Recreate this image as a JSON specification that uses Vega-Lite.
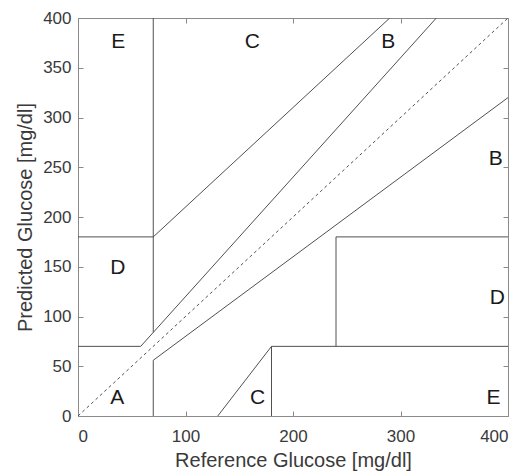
{
  "$schema": "https://vega.github.io/schema/vega-lite/v6.json",
  "width": 430,
  "height": 398,
  "autosize": "none",
  "padding": {"left": 78, "top": 18, "right": 18, "bottom": 57},
  "background": "white",
  "config": {
    "view": {"stroke": "#8a8a8a", "strokeWidth": 1},
    "font": "Liberation Sans",
    "axis": {"grid": false, "domain": false, "tickColor": "#8a8a8a", "tickSize": 5, "tickWidth": 1,
      "labelFont": "Liberation Sans", "labelFontSize": 17, "labelColor": "#3a3a3a",
      "titleFont": "Liberation Sans", "titleFontSize": 20, "titleFontWeight": "normal", "titleColor": "#3a3a3a"}
  },
  "datasets": {
    "segs": [
      {"seg": 1, "i": 0, "x": 0, "y": 70},
      {"seg": 1, "i": 1, "x": 58.33, "y": 70},
      {"seg": 1, "i": 2, "x": 333.33, "y": 400},
      {"seg": 2, "i": 0, "x": 70, "y": 84},
      {"seg": 2, "i": 1, "x": 70, "y": 400},
      {"seg": 3, "i": 0, "x": 0, "y": 180},
      {"seg": 3, "i": 1, "x": 70, "y": 180},
      {"seg": 3, "i": 2, "x": 290, "y": 400},
      {"seg": 4, "i": 0, "x": 70, "y": 0},
      {"seg": 4, "i": 1, "x": 70, "y": 56},
      {"seg": 4, "i": 2, "x": 400, "y": 320},
      {"seg": 5, "i": 0, "x": 130, "y": 0},
      {"seg": 5, "i": 1, "x": 180, "y": 70},
      {"seg": 5, "i": 2, "x": 400, "y": 70},
      {"seg": 6, "i": 0, "x": 180, "y": 0},
      {"seg": 6, "i": 1, "x": 180, "y": 70},
      {"seg": 7, "i": 0, "x": 240, "y": 70},
      {"seg": 7, "i": 1, "x": 240, "y": 180},
      {"seg": 7, "i": 2, "x": 400, "y": 180}
    ],
    "diag": [
      {"x": 0, "y": 0},
      {"x": 400, "y": 400}
    ],
    "labels": [
      {"t": "A", "x": 30, "y": 18},
      {"t": "B", "x": 382, "y": 258},
      {"t": "B", "x": 282, "y": 376},
      {"t": "C", "x": 155, "y": 376},
      {"t": "C", "x": 160, "y": 18},
      {"t": "D", "x": 30, "y": 149},
      {"t": "D", "x": 383, "y": 119},
      {"t": "E", "x": 31, "y": 376},
      {"t": "E", "x": 380, "y": 18}
    ]
  },
  "layer": [
    {
      "data": {"name": "segs"},
      "mark": {"type": "line", "color": "#505050", "strokeWidth": 1, "clip": true},
      "encoding": {
        "x": {"field": "x", "type": "quantitative", "scale": {"domain": [0, 400], "nice": false}, "axis": {"title": "Reference Glucose [mg/dl]", "values": [0, 100, 200, 300, 400], "ticks": false, "labelPadding": 12, "titlePadding": 6}},
        "y": {"field": "y", "type": "quantitative", "scale": {"domain": [0, 400], "nice": false}, "axis": {"title": "Predicted Glucose [mg/dl]", "values": [0, 50, 100, 150, 200, 250, 300, 350, 400], "ticks": false, "labelPadding": 7, "titlePadding": 7}},
        "detail": {"field": "seg"},
        "order": {"field": "i"}
      }
    },
    {
      "data": {"name": "diag"},
      "mark": {"type": "line", "color": "#505050", "strokeWidth": 1, "strokeDash": [3, 3]},
      "encoding": {
        "x": {"field": "x", "type": "quantitative", "axis": {"orient": "top", "offset": -5, "labels": false, "title": null, "values": [0, 100, 200, 300, 400]}},
        "y": {"field": "y", "type": "quantitative", "axis": {"orient": "right", "offset": -5, "labels": false, "title": null, "values": [0, 50, 100, 150, 200, 250, 300, 350, 400]}}
      }
    },
    {
      "data": {"name": "labels"},
      "mark": {"type": "text", "align": "left", "baseline": "middle", "fontSize": 21, "font": "Liberation Sans", "color": "#1a1a1a"},
      "encoding": {
        "x": {"field": "x", "type": "quantitative", "axis": {"orient": "bottom", "offset": -5, "labels": false, "title": null, "values": [0, 100, 200, 300, 400]}},
        "y": {"field": "y", "type": "quantitative", "axis": {"orient": "left", "offset": -5, "labels": false, "title": null, "values": [0, 50, 100, 150, 200, 250, 300, 350, 400]}},
        "text": {"field": "t"}
      }
    }
  ],
  "resolve": {"axis": {"x": "independent", "y": "independent"}}
}
